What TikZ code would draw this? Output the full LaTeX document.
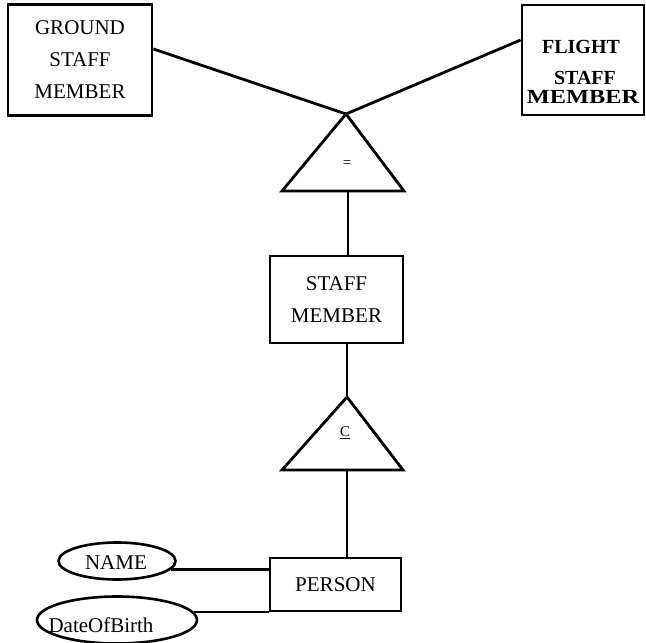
\documentclass[tikz,border=0pt]{standalone}
\usepackage{fontspec}
\setmainfont{Liberation Serif}
\usepackage{graphicx}
\usepackage{tikz}
\usetikzlibrary{calc}
\usetikzlibrary{shapes.geometric}
\usetikzlibrary{positioning}

\tikzset{
  entbox/.style={draw, line width=2.8pt, inner sep=0pt, align=center,
    font=\fontsize{21}{32}\selectfont},
  attr/.style={draw, ellipse, line width=2.6pt, inner sep=0pt},
  conn/.style={line width=2.8pt},
  labtxt/.style={inner sep=0pt, font=\fontsize{21}{25}\selectfont},
  boldtxt/.style={inner sep=0pt, anchor=base, font=\fontsize{20}{24}\bfseries\selectfont},
}

\begin{document}
\begin{tikzpicture}[x=1pt,y=-1pt]
    \useasboundingbox (0,0) rectangle (646,643);
    % entity boxes
    \node[entbox, minimum width=144pt, minimum height=111pt] (ground) at (80,60) {GROUND\\STAFF\\MEMBER};
    \node[entbox, minimum width=122pt, minimum height=110pt] (flight) at (583,60) {};
    \node[boldtxt] (flight1) at (581,53) {FLIGHT};
    \node[boldtxt] (flight2) at (585,84) {STAFF};
    \node[boldtxt] (flight3) at (583,103) {\scalebox{1.22}[1]{MEMBER}};
    \node[entbox, minimum width=133pt, minimum height=87pt] (staff) at (336.5,299.5) {STAFF\\MEMBER};
    \node[entbox, minimum width=131pt, minimum height=53pt] (person) at (335.5,584.5) {PERSON};

    % the two triangles
    \coordinate (eqtop) at (346,114);
    \coordinate (eqbot) at (348,191);
    \draw[conn, line join=miter] (eqtop) -- (404,191) -- (282,191) -- cycle;
    \node[labtxt, font=\fontsize{15}{15}\selectfont] (eq) at (347,164) {=};

    \coordinate (subtop) at (347,397);
    \coordinate (subbot) at (347,470);
    \draw[conn, line join=miter] (subtop) -- (403,470) -- (282,470) -- cycle;
    \node[labtxt, font=\fontsize{15}{15}\selectfont] (sub) at (345,433) {\underline{C}};

    % attributes
    \node[attr, minimum width=117pt, minimum height=37pt] (name) at (117,561) {};
    \node[labtxt] (nametxt) at (116,563) {NAME};
    \node[attr, minimum width=160pt, minimum height=47pt] (dob) at (117,620) {};
    \node[labtxt, anchor=base] (dobtxt) at (101,632) {DateOfBirth};

    % connectors
    \draw[conn] (ground.east |- 0,49) -- (eqtop);
    \draw[conn] (flight.west |- 0,40) -- (eqtop);
    \draw[conn] (eqbot) -- (staff.north -| eqbot);
    \draw[conn] (staff.south -| subtop) -- (subtop);
    \draw[conn] (subbot) -- (person.north -| subbot);
    \draw[conn] (name.-9) -- (person.west |- name.-9);
    \draw[conn] (dob.6) -- (person.south west |- dob.6);
\end{tikzpicture}
\end{document}
